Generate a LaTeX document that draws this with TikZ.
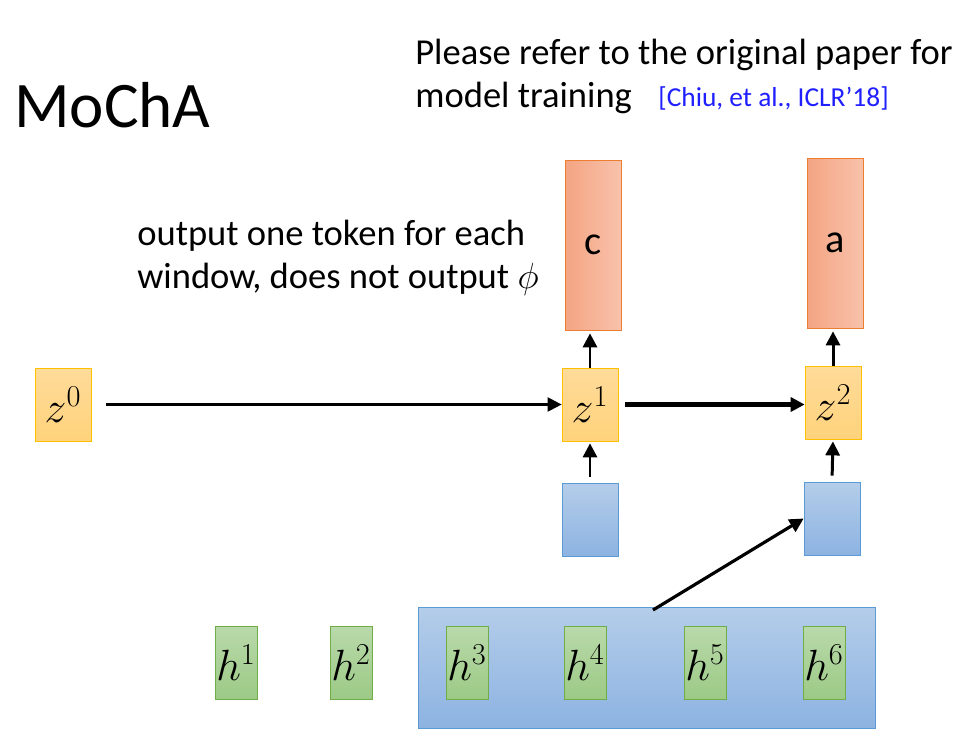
\documentclass[tikz,border=0pt]{standalone}
\usepackage{fontspec}
\setmainfont{Carlito}
\usepackage{tikz}
\usepackage{xcolor}
\usetikzlibrary{positioning}
\usetikzlibrary{arrows.meta}
\definecolor{outline}{HTML}{ED7D31}
\definecolor{outleft}{HTML}{F4A482}
\definecolor{outright}{HTML}{F8C2AB}
\definecolor{zline}{HTML}{FFC000}
\definecolor{ztop}{HTML}{FFDB9A}
\definecolor{zbot}{HTML}{FFD37C}
\definecolor{bline}{HTML}{5B9BD5}
\definecolor{btop}{HTML}{B4CDE9}
\definecolor{bbot}{HTML}{8DB3E2}
\definecolor{gline}{HTML}{70AD47}
\definecolor{gtop}{HTML}{B9D9AA}
\definecolor{gbot}{HTML}{9CCA86}
\definecolor{citeblue}{HTML}{1F1FFF}
\tikzstyle{outbox} = [rectangle, inner sep=0pt, minimum width=1.12cm, minimum height=3.4cm, draw=outline, left color=outleft, right color=outright, font=\fontsize{23}{26}\selectfont]
\tikzstyle{statebox} = [rectangle, inner sep=0pt, minimum width=1.12cm, minimum height=1.46cm, draw=zline, top color=ztop, bottom color=zbot, font=\fontsize{26}{28}\selectfont]
\tikzstyle{ctxbox} = [rectangle, inner sep=0pt, minimum width=1.12cm, minimum height=1.46cm, draw=bline, top color=btop, bottom color=bbot]
\tikzstyle{encbox} = [rectangle, inner sep=0pt, minimum width=0.84cm, minimum height=1.46cm, draw=gline, top color=gtop, bottom color=gbot, font=\fontsize{25}{28}\selectfont]
\tikzstyle{txt} = [inner sep=0pt, anchor=base west, align=left, font=\fontsize{20.8}{24.4}\selectfont]
\tikzstyle{arrow} = [line width=1.7pt, -{Triangle[length=8pt, width=8pt]}]

\begin{document}
\begin{tikzpicture}[x=0.02cm, y=-0.02cm]
        \useasboundingbox (0,0) rectangle (974,747);
        \node (title) [inner sep=0pt, anchor=base west, font=\fontsize{37}{40}\selectfont] at (14,127) {MoChA};
        \node (note) [txt] at (415,107) {Please refer to the original paper for\\model training};
        \node (cite) [inner sep=0pt, anchor=base west, text=citeblue, font=\fontsize{15.6}{18}\selectfont] at (658,106) {[Chiu, et al., ICLR'18]};
        \node (rule) [txt] at (137,288) {output one token for each\\window, does not output $\phi$};

        \node (z0) [statebox] at (63,404.5) {$z^0$};
        \node (z1) [statebox] at (590,404.5) {$z^1$};
        \node (z2) [statebox] at (833,402.5) {$z^2$};
        \node (c) [outbox] at (593,245) {c};
        \node (a) [outbox] at (835,243) {a};
        \node (q1) [ctxbox] at (590,519.5) {};
        \node (q2) [ctxbox] at (832,518.5) {};

        \node (window) [ctxbox, minimum width=9.14cm, minimum height=2.42cm] at (646.5,667.5) {};
        \node (h1) [encbox] at (236,662.5) {$h^1$};
        \node (h2) [encbox] at (351,662.5) {$h^2$};
        \node (h3) [encbox] at (467,662.5) {$h^3$};
        \node (h4) [encbox] at (585,662.5) {$h^4$};
        \node (h5) [encbox] at (705,662.5) {$h^5$};
        \node (h6) [encbox] at (824,662.5) {$h^6$};
        \coordinate (pick) at (653,610);

        \draw [arrow, line width=1.2pt, shorten <=0.3cm] (z0) -- (z1);
        \draw [arrow, line width=2.4pt, shorten <=0.14cm] (z1.east) -- (z2.west |- z1.east);
        \draw [arrow, shorten >=0.06cm] (z1.north) -- (z1.north |- c.south);
        \draw [arrow, shorten >=0.06cm] (z2.north) -- (z2.north |- a.south);
        \draw [arrow, shorten <=0.12cm, shorten >=0.04cm] (q1.north) -- (z1.south);
        \draw [arrow, shorten <=0.12cm, shorten >=0.04cm] (q2.north) -- (z2.south);
        \draw [arrow, line width=1.8pt] (pick) -- (q2.west);
    \end{tikzpicture}
\end{document}
